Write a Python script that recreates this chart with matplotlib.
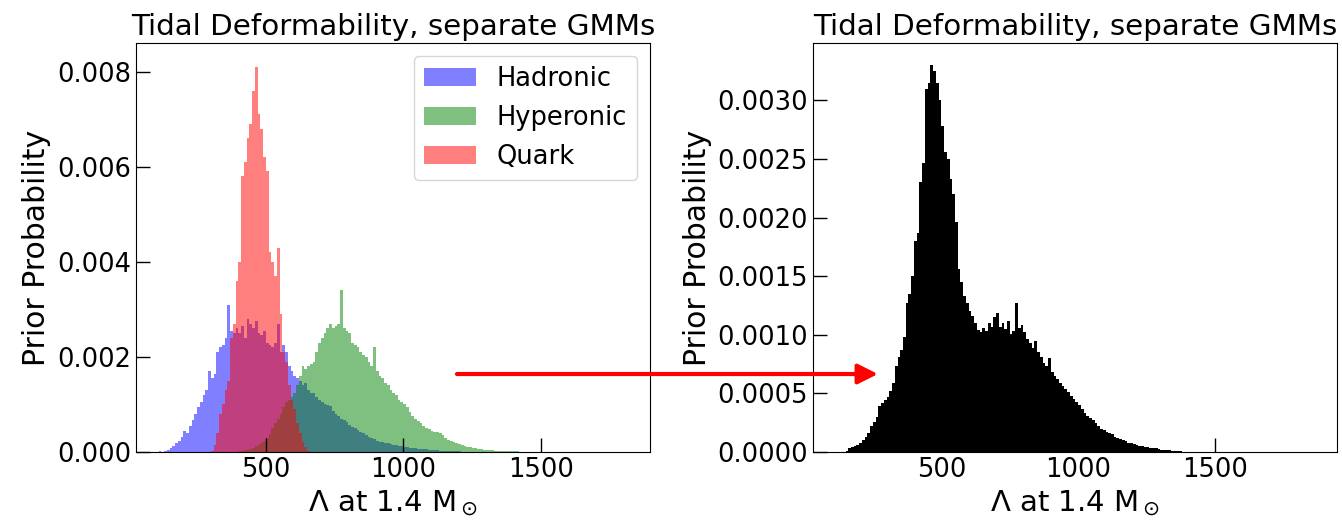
import matplotlib
matplotlib.use("Agg")
import matplotlib.pyplot as plt
import numpy as np
from matplotlib.patches import FancyArrowPatch

# bar heights, in units of 1e-4 (prior probability density)
bin_width = 10

hadronic_start = 100
hadronic = np.array([
    0.1, 0.2, 0.1, 0.2, 0.4, 0.9, 1.3, 1.8, 2.4, 3.2,
    4.5, 4.0, 5.5, 6.8, 8.0, 9.5, 10.5, 12.0, 13.0, 17.0,
    15.5, 16.5, 21.0, 22.0, 22.5, 24.0, 31.0, 25.5, 25.0, 26.0,
    25.0, 26.5, 24.0, 28.0, 27.0, 26.0, 27.5, 25.0, 24.5, 25.5,
    23.0, 22.5, 22.0, 23.0, 27.0, 21.0, 22.5, 21.0, 18.0, 17.0,
    16.0, 15.5, 15.0, 14.0, 14.5, 13.0, 12.5, 12.4, 11.5, 11.0,
    10.5, 10.0, 9.8, 9.6, 8.6, 8.0, 7.5, 7.0, 6.7, 6.4,
    5.6, 5.2, 5.0, 4.6, 4.3, 4.0, 3.6, 3.2, 3.0, 2.7,
    2.4, 2.2, 2.0, 1.9, 1.8, 1.6, 1.5, 1.5, 1.3, 1.2,
    1.1, 1.0, 0.9, 0.9, 0.8, 0.7, 0.7, 0.6, 0.6, 0.5,
    0.5, 0.4, 0.4, 0.3, 0.3, 0.3, 0.2, 0.2, 0.2, 0.15,
    0.15, 0.1, 0.1, 0.1, 0.05, 0.05,
])

hyperonic_start = 400
hyperonic = np.array([
    0.2, 0.3, 0.4, 0.5, 0.7, 0.9, 1.2, 1.5, 1.9, 2.4,
    3.0, 3.8, 5.0, 6.0, 7.0, 8.0, 9.5, 10.5, 11.0, 11.5,
    12.5, 14.0, 16.0, 18.0, 17.5, 18.0, 18.5, 19.0, 21.0, 23.0,
    24.0, 25.0, 26.0, 27.0, 26.0, 26.5, 27.0, 34.0, 26.0, 25.5,
    25.0, 23.0, 22.5, 22.0, 21.0, 20.5, 20.0, 19.0, 18.0, 22.0,
    17.0, 16.0, 15.5, 14.5, 14.0, 13.0, 12.5, 12.0, 11.0, 10.5,
    10.0, 9.5, 8.5, 7.5, 7.0, 6.5, 6.0, 5.5, 5.0, 4.8,
    4.5, 4.3, 4.2, 4.0, 3.5, 3.0, 2.6, 2.4, 2.1, 1.9,
    1.7, 1.5, 1.3, 1.1, 1.0, 0.9, 0.8, 0.7, 0.6, 0.5,
    0.45, 0.4, 0.35, 0.3, 0.3, 0.25, 0.25, 0.2, 0.2, 0.2,
    0.15, 0.15, 0.1, 0.1, 0.1, 0.1, 0.05,
])

quark_start = 300
quark = np.array([
    0.3, 1.5, 4.0, 8.0, 10.0, 13.0, 15.0, 24.0, 27.0, 36.0,
    40.0, 58.0, 61.0, 66.0, 69.0, 76.0, 81.0, 71.0, 68.0, 62.0,
    59.0, 42.0, 40.0, 37.0, 43.0, 29.0, 21.0, 19.0, 14.0, 11.0,
    9.0, 6.0, 4.0, 2.0, 1.0, 0.3,
])

combined_start = 150
combined = np.array([
    0.1, 0.3, 0.4, 0.5, 0.6, 0.8, 1.0, 1.3, 1.6, 2.2,
    2.6, 3.0, 3.9, 4.2, 4.4, 4.7, 5.2, 5.9, 7.3, 8.1,
    8.7, 9.8, 12.7, 13.5, 15.0, 18.0, 18.7, 23.0, 24.7, 31.0,
    31.5, 33.0, 32.5, 31.5, 30.0, 27.8, 25.6, 25.0, 23.3, 22.0,
    19.6, 15.6, 14.5, 13.3, 12.7, 12.0, 11.6, 11.0, 10.4, 10.2,
    10.6, 10.3, 11.0, 10.7, 11.5, 11.9, 10.7, 11.0, 10.5, 11.2,
    10.1, 10.3, 12.7, 10.6, 10.8, 10.2, 9.6, 9.3, 8.9, 9.5,
    8.5, 8.1, 7.6, 7.3, 8.0, 6.8, 6.5, 6.2, 5.9, 5.6,
    5.4, 5.1, 4.8, 4.5, 4.3, 4.0, 3.7, 3.3, 3.1, 2.9,
    2.7, 2.5, 2.2, 2.0, 1.9, 1.7, 1.6, 1.5, 1.3, 1.2,
    1.1, 1.0, 0.9, 0.8, 0.75, 0.7, 0.6, 0.55, 0.5, 0.45,
    0.4, 0.35, 0.3, 0.3, 0.25, 0.2, 0.2, 0.15, 0.15, 0.1,
    0.1, 0.05, 0.05,
])

SCALE = 1e-4
title = "Tidal Deformability, separate GMMs"
xlabel = r"$\Lambda$ at 1.4 M$_\odot$"
ylabel = "Prior Probability"


def edges_for(start, heights):
    return start + bin_width * np.arange(len(heights) + 1)


def style_axes(ax):
    ax.tick_params(direction="in", length=10, width=1, labelsize=18.5)
    ax.set_xticks([500, 1000, 1500])
    ax.set_title(title, fontsize=21.2)
    ax.set_xlabel(xlabel, fontsize=21)
    ax.set_ylabel(ylabel, fontsize=21.5)


fig = plt.figure(figsize=(13.42, 5.22), dpi=100)
ax_l = fig.add_axes([0.1013, 0.1341, 0.3830, 0.7835])
ax_r = fig.add_axes([0.6058, 0.1341, 0.3905, 0.7835])

for start, heights, color, label in [
    (hadronic_start, hadronic, "b", "Hadronic"),
    (hyperonic_start, hyperonic, "g", "Hyperonic"),
    (quark_start, quark, "r", "Quark"),
]:
    e = edges_for(start, heights)
    ax_l.hist(e[:-1], bins=e, weights=heights * SCALE, color=color, alpha=0.5, label=label)

ax_l.set_xlim(27, 1898)
ax_l.set_ylim(0, 0.0086)
ax_l.legend(loc="upper right", fontsize=18.5)
style_axes(ax_l)

e = edges_for(combined_start, combined)
ax_r.hist(e[:-1], bins=e, weights=combined * SCALE, color="k")
ax_r.set_xlim(31, 1946)
ax_r.set_ylim(0, 0.00349)
style_axes(ax_r)

# red arrow linking the two panels
arrow = FancyArrowPatch((0.3405, 0.2835), (0.6542, 0.2835), transform=fig.transFigure,
                        arrowstyle="-|>,head_length=0.8,head_width=0.4", mutation_scale=15,
                        color="red", lw=3, shrinkA=0, shrinkB=0)
fig.add_artist(arrow)

fig.savefig("out.png", dpi=100)
